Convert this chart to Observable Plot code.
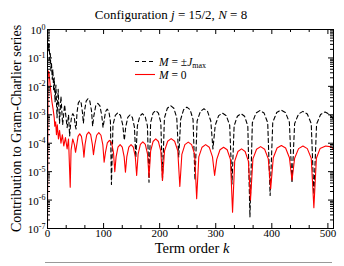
<!DOCTYPE html>
<html><head><meta charset="utf-8">
<script src="https://cdn.jsdelivr.net/npm/d3@7"></script>
<script src="https://cdn.jsdelivr.net/npm/@observablehq/plot@0.6"></script>
<style>
html,body{margin:0;padding:0;background:#fff;}
#chart{width:344px;height:266px;}
</style></head><body><div id="chart"></div>
<script>
// tick labels
const xTicks = [0, 100, 200, 300, 400, 500];
const yTickExponents = [0, -1, -2, -3, -4, -5, -6, -7];

// M = 0 series (term order k, log10 of contribution)
const redK = [0, 1, 2.5, 4, 6, 8, 10, 12, 13, 14.5, 16, 17.5, 19.5, 21.5, 24, 26.5, 29, 32, 35, 37.5, 40.5, 42, 45, 48, 50,
 51.8, 54.5, 57.5, 60.5, 63.2, 65,
 67, 70, 73.5, 77, 80, 82,
 84.3, 87.7, 91.5, 95.3, 98.7, 101,
 103.3, 106.7, 110.5, 114.3, 117.7, 120,
 122.3, 125.7, 129.5, 133.3, 136.7, 139,
 141.4, 145, 149, 153, 156.6, 159,
 161.6, 165.6, 170, 174.4, 178.4, 181,
 183.9, 188.2, 193, 197.8, 202.1, 205,
 208.7, 214.3, 220.5, 226.7, 232.3, 236,
 239.6, 245, 251, 257, 262.4, 266,
 269.8, 275.6, 282, 288.4, 294.2, 298,
 301.8, 307.6, 314, 320.4, 326.2, 330,
 333.8, 339.6, 346, 352.4, 358.2, 362,
 366.3, 372.8, 380, 387.2, 393.7, 398,
 402.6, 409.4, 417, 424.6, 431.4, 436,
 440.7, 447.7, 455.5, 463.3, 470.3, 475,
 479.5, 486, 496, 506, 510];
const redLog = [-7, -1.45, -1.5, -1.8, -2.2, -2.55, -2.8, -3.1, -3.4, -3.25, -3.7, -3.35, -3.85, -3.55, -4.0, -3.7, -4.1, -3.8, -4.2, -3.85, -5.55, -4.25, -3.85, -4.05, -4.32,
 -4.1, -3.76, -3.67, -3.76, -4.1, -4.49,
 -4.04, -3.7, -3.61, -3.7, -4.04, -4.4,
 -4.06, -3.72, -3.63, -3.72, -4.06, -4.67,
 -4.33, -3.99, -3.9, -3.99, -4.33, -5.0,
 -4.48, -4.14, -4.05, -4.14, -4.48, -5.02,
 -4.48, -4.14, -4.05, -4.14, -4.48, -5.13,
 -4.38, -4.04, -3.95, -4.04, -4.38, -5.2,
 -4.28, -3.94, -3.85, -3.94, -4.28, -5.31,
 -4.27, -3.93, -3.84, -3.93, -4.27, -5.52,
 -4.39, -4.05, -3.96, -4.05, -4.39, -5.95,
 -4.48, -4.14, -4.05, -4.14, -4.48, -5.13,
 -4.57, -4.23, -4.14, -4.23, -4.57, -6.43,
 -4.63, -4.29, -4.2, -4.29, -4.63, -6.0,
 -4.55, -4.21, -4.12, -4.21, -4.55, -5.6,
 -4.51, -4.17, -4.08, -4.17, -4.51, -5.3,
 -4.53, -4.19, -4.1, -4.19, -4.53, -6.27,
 -4.53, -4.19, -4.1, -4.13, -4.2];

// M = ±Jmax series
const blackK = [0, 1, 2, 3, 4, 5, 6, 7, 8.5, 9.5, 11, 12, 13.5, 15, 17, 19, 21.5, 24, 27, 30.5, 35, 37.5, 39.5,
 40.9, 43, 45.2, 47.5, 49.6, 51,
 52.6, 54.9, 57.5, 60.1, 62.4, 64,
 66, 69, 72.2, 75.5, 78.5, 80.5,
 82.7, 86, 89.7, 93.5, 96.8, 99,
 100.8, 103.5, 106.5, 109.5, 112.2, 114,
 116.8, 120.9, 125.5, 130.1, 134.2, 137,
 139.5, 143.2, 147.2, 151.3, 155, 157.5,
 160.3, 164.5, 169.2, 174, 178.2, 181,
 183.9, 188.2, 193, 197.8, 202.1, 205,
 208.5, 213.7, 219.5, 225.3, 230.5, 234,
 237.5, 242.7, 248.5, 254.3, 259.5, 263,
 266.8, 272.6, 279, 285.4, 291.2, 295,
 299.1, 305.2, 312, 318.8, 324.9, 329,
 332.8, 338.6, 345, 351.4, 357.2, 361,
 365.3, 371.8, 379, 386.2, 392.7, 397,
 401.7, 408.7, 416.5, 424.3, 431.3, 436,
 440.7, 447.7, 455.5, 463.3, 470.3, 475,
 479.8, 487, 495, 503, 510];
const blackLog = [0, -0.35, -0.75, -0.5, -1.05, -0.85, -1.45, -1.15, -1.75, -1.4, -2.15, -1.7, -2.55, -1.95, -3.1, -2.1, -3.3, -2.35, -3.35, -2.65, -3.45, -3.0, -3.75,
 -3.39, -3.05, -2.96, -3.05, -3.39, -3.5,
 -2.93, -2.59, -2.5, -2.59, -2.93, -3.3,
 -2.86, -2.52, -2.43, -2.52, -2.86, -3.4,
 -3.03, -2.69, -2.6, -2.69, -3.03, -3.45,
 -3.23, -2.89, -2.8, -2.89, -3.23, -5.45,
 -3.36, -3.02, -2.93, -3.02, -3.36, -3.9,
 -3.43, -3.09, -3.0, -3.09, -3.43, -4.5,
 -3.39, -3.05, -2.96, -3.05, -3.39, -5.37,
 -3.28, -2.94, -2.85, -2.94, -3.28, -5.31,
 -3.11, -2.77, -2.68, -2.77, -3.11, -4.5,
 -3.16, -2.82, -2.73, -2.82, -3.16, -5.3,
 -3.22, -2.88, -2.79, -2.88, -3.22, -4.2,
 -3.37, -3.03, -2.94, -3.03, -3.37, -5.43,
 -3.39, -3.05, -2.96, -3.05, -3.39, -6.6,
 -3.28, -2.94, -2.85, -2.94, -3.28, -5.84,
 -3.26, -2.92, -2.83, -2.92, -3.26, -5.4,
 -3.31, -2.97, -2.88, -2.97, -3.31, -5.8,
 -3.33, -2.99, -2.9, -2.99, -3.15];

const W = 344, H = 266, mL = 47, mR = 11, mT = 29, mB = 38;
const fw = W - mL - mR, fh = H - mT - mB;
const FONT = "'Liberation Serif','Times New Roman',serif";

const red = redK.map((k, i) => ({k, v: Math.pow(10, redLog[i])}));
const black = blackK.map((k, i) => ({k, v: Math.pow(10, blackLog[i])}));
const yMajor = yTickExponents.map(e => Math.pow(10, e));
const xMinor = d3.range(0, 510, 100 / 3).filter(v => Math.abs(v / 100 - Math.round(v / 100)) > 0.01);
const yMinor = [];
for (let e = -7; e < 0; e++) for (let m = 2; m <= 9; m++) yMinor.push(m * Math.pow(10, e));

const chart = Plot.plot({
  width: W, height: H,
  marginLeft: mL, marginRight: mR, marginTop: mT, marginBottom: mB,
  style: {background: "#fff", fontFamily: FONT, fontSize: "11px", color: "#000", overflow: "visible"},
  x: {domain: [0, 510], axis: null},
  y: {type: "log", domain: [1e-7, 1], axis: null},
  marks: [
    Plot.line(black, {x: "k", y: "v", stroke: "#000", strokeWidth: 1.1, strokeDasharray: "4,3", clip: true}),
    Plot.line(red, {x: "k", y: "v", stroke: "#ff0000", strokeWidth: 1.1, clip: true}),
    Plot.frame({stroke: "#000", strokeWidth: 1}),
    Plot.tickX(xTicks, {x: d => d, insetTop: fh - 5, stroke: "#000"}),
    Plot.tickX(xTicks, {x: d => d, insetBottom: fh - 5, stroke: "#000"}),
    Plot.tickX(xMinor, {x: d => d, insetTop: fh - 3, stroke: "#000"}),
    Plot.tickX(xMinor, {x: d => d, insetBottom: fh - 3, stroke: "#000"}),
    Plot.tickY(yMajor, {y: d => d, insetRight: fw - 5, stroke: "#000"}),
    Plot.tickY(yMajor, {y: d => d, insetLeft: fw - 5, stroke: "#000"}),
    Plot.tickY(yMinor, {y: d => d, insetRight: fw - 3, stroke: "#000"}),
    Plot.tickY(yMinor, {y: d => d, insetLeft: fw - 3, stroke: "#000"}),
    Plot.text(xTicks, {x: d => d, frameAnchor: "bottom", lineAnchor: "top", dy: 1, text: d => String(d), fontSize: 11, fill: "#000"}),
    Plot.text(yTickExponents, {y: e => Math.pow(10, e), frameAnchor: "left", textAnchor: "end", dx: -2, dy: 1, text: e => "10^" + e, fontSize: 11, fill: "#000"})
  ]
});
document.getElementById("chart").appendChild(chart);

const svg = d3.select(chart);
svg.selectAll("text").each(function () {
  const t = this.textContent;
  if (/^10\^/.test(t)) {
    const e = t.slice(3);
    this.textContent = "10";
    d3.select(this).append("tspan").attr("dy", -4.5).attr("font-size", 8).text(e);
  }
});

function rich(parent, x, y, parts, opts) {
  const t = parent.append("text").attr("x", x).attr("y", y)
    .attr("font-family", FONT).attr("font-size", opts.size).attr("fill", "#000")
    .attr("text-anchor", opts.anchor || "start").style("white-space", "pre");
  if (opts.rotate) t.attr("transform", `rotate(-90 ${x} ${y})`);
  parts.forEach(p => {
    const s = t.append("tspan").text(p.t);
    if (p.i) s.attr("font-style", "italic");
    if (p.sub) s.attr("font-size", p.sub).attr("dy", p.dy);
    if (p.dy && !p.sub) s.attr("dy", p.dy);
  });
  return t;
}

// title
rich(svg, 171, 19, [{t: "Configuration "}, {t: "j", i: 1}, {t: " = 15/2, "}, {t: "N", i: 1}, {t: " = 8"}], {size: 13, anchor: "middle"});
// axis labels
rich(svg, 192, 253, [{t: "Term order "}, {t: "k", i: 1}], {size: 14.5, anchor: "middle"});
rich(svg, 21, mT + fh / 2, [{t: "Contribution to Gram-Charlier series"}], {size: 14, anchor: "middle", rotate: true});

// legend
svg.append("line").attr("x1", 135).attr("x2", 155).attr("y1", 61.5).attr("y2", 61.5)
  .attr("stroke", "#000").attr("stroke-width", 1.1).attr("stroke-dasharray", "4,3");
rich(svg, 159, 65.5, [{t: "M", i: 1}, {t: " = \u00b1"}, {t: "J", i: 1}, {t: "max", sub: 8, dy: 2.5}], {size: 11.5});
svg.append("line").attr("x1", 135).attr("x2", 155).attr("y1", 74.5).attr("y2", 74.5)
  .attr("stroke", "#ff0000").attr("stroke-width", 1.1);
rich(svg, 159, 78.5, [{t: "M", i: 1}, {t: " = 0"}], {size: 11.5});

// bottom rule
svg.append("line").attr("x1", 45).attr("x2", 332).attr("y1", 262.5).attr("y2", 262.5)
  .attr("stroke", "#999").attr("stroke-width", 1);
</script></body></html>
